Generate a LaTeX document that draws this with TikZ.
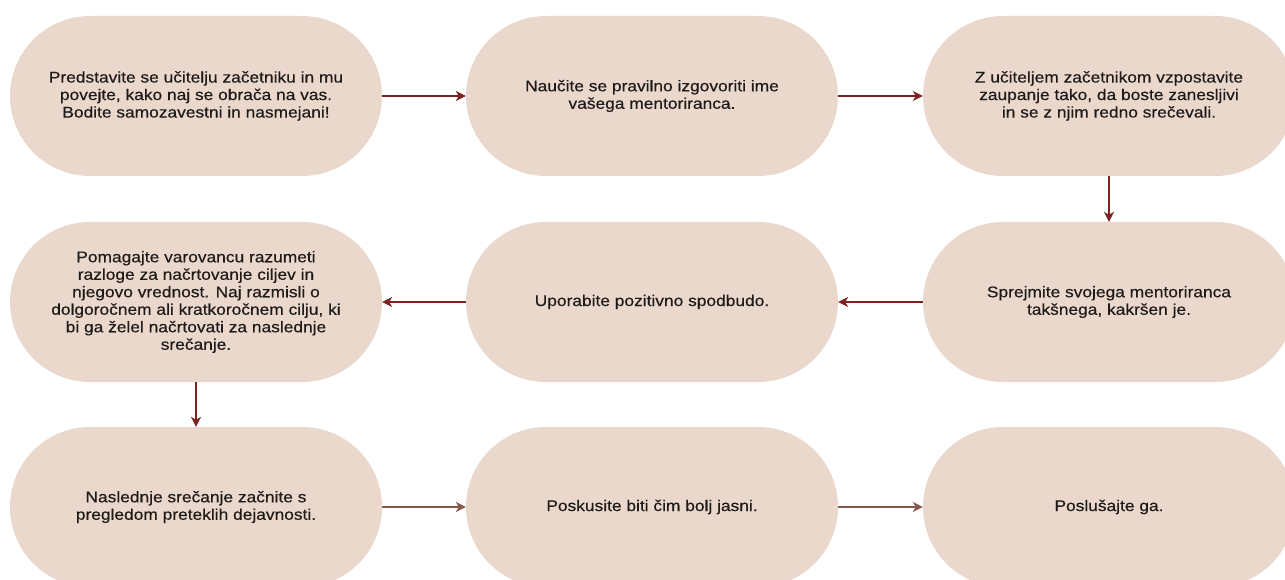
\documentclass[tikz,border=0pt]{standalone}
\usepackage{fontspec}
\setmainfont{Liberation Sans}[FakeStretch=1.12,FakeBold=0.35]
\usetikzlibrary{arrows.meta}
\definecolor{boxfill}{HTML}{EBD8CD}
\definecolor{arrowred}{HTML}{7B2320}
\definecolor{arrowbrown}{HTML}{86594B}
\definecolor{txtcol}{HTML}{1E1A18}
\tikzset{
  stepbox/.style={rectangle, rounded corners=80pt, minimum width=372pt, minimum height=160pt,
    inner sep=0pt, fill=boxfill, text=txtcol, align=center,
    font=\fontsize{15.5}{17.5}\selectfont},
  arr/.style={draw=arrowred, line width=1.4pt, -{Stealth[length=10pt,width=10pt,inset=3pt]}},
  arrb/.style={arr, draw=arrowbrown},
}
\begin{document}
\begin{tikzpicture}[x=1pt,y=-1pt]
\useasboundingbox (0,0) rectangle (1285,580);
\clip (0,0) rectangle (1285,580);
\fill[white] (0,0) rectangle (1285,580);
% row 1
\node[stepbox] (n1) at (196,96) {Predstavite se učitelju začetniku in mu\\povejte, kako naj se obrača na vas.\\Bodite samozavestni in nasmejani!};
\node[stepbox] (n2) at (652,96) {Naučite se pravilno izgovoriti ime\\vašega mentoriranca.};
\node[stepbox] (n3) at (1109,96) {Z učiteljem začetnikom vzpostavite\\zaupanje tako, da boste zanesljivi\\in se z njim redno srečevali.};
% row 2
\node[stepbox] (n4) at (196,302) {Pomagajte varovancu razumeti\\razloge za načrtovanje ciljev in\\njegovo vrednost. Naj razmisli o\\dolgoročnem ali kratkoročnem cilju, ki\\bi ga želel načrtovati za naslednje\\srečanje.};
\node[stepbox] (n5) at (652,302) {Uporabite pozitivno spodbudo.};
\node[stepbox] (n6) at (1109,302) {Sprejmite svojega mentoriranca\\takšnega, kakršen je.};
% row 3
\node[stepbox] (n7) at (196,507) {Naslednje srečanje začnite s\\pregledom preteklih dejavnosti.};
\node[stepbox] (n8) at (652,507) {Poskusite biti čim bolj jasni.};
\node[stepbox] (n9) at (1109,507) {Poslušajte ga.};
% connectors
\draw[arr] (n1) -- (n2);
\draw[arr] (n2) -- (n3);
\draw[arr] (n3) -- (n6);
\draw[arr] (n6) -- (n5);
\draw[arr] (n5) -- (n4);
\draw[arr] (n4) -- (n7);
\draw[arrb] (n7) -- (n8);
\draw[arrb] (n8) -- (n9);
\end{tikzpicture}
\end{document}
